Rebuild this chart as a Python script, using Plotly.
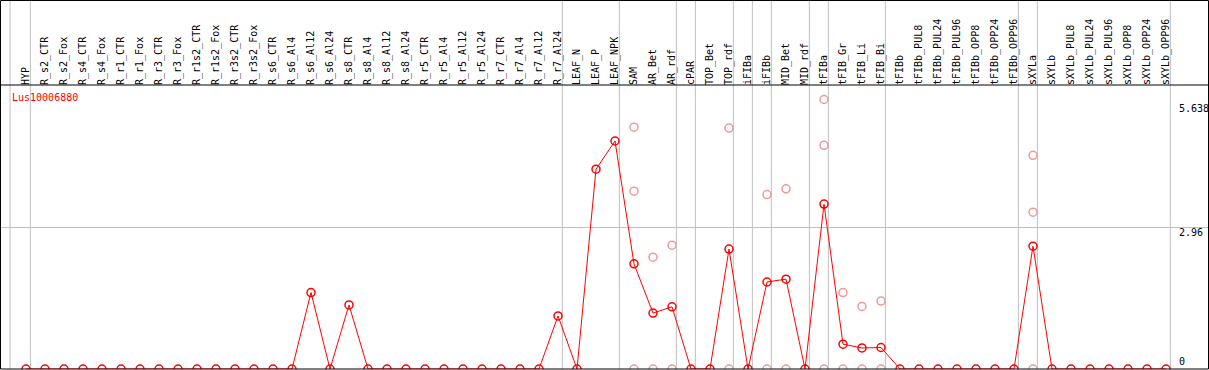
import plotly.graph_objects as go

# ---------------- data ----------------
categories = [
    "HYP", "R_s2_CTR", "R_s2_Fox", "R_s4_CTR", "R_s4_Fox", "R_r1_CTR", "R_r1_Fox",
    "R_r3_CTR", "R_r3_Fox", "R_r1s2_CTR", "R_r1s2_Fox", "R_r3s2_CTR", "R_r3s2_Fox",
    "R_s6_CTR", "R_s6_Al4", "R_s6_Al12", "R_s6_Al24", "R_s8_CTR", "R_s8_Al4",
    "R_s8_Al12", "R_s8_Al24", "R_r5_CTR", "R_r5_Al4", "R_r5_Al12", "R_r5_Al24",
    "R_r7_CTR", "R_r7_Al4", "R_r7_Al12", "R_r7_Al24", "LEAF_N", "LEAF_P", "LEAF_NPK",
    "SAM", "AR_Bet", "AR_rdf", "cPAR", "TOP_Bet", "TOP_rdf", "iFIBa", "iFIBb",
    "MID_Bet", "MID_rdf", "tFIBa", "tFIB_Gr", "tFIB_Li", "tFIB_Bi", "tFIBb",
    "tFIBb_PUL8", "tFIBb_PUL24", "tFIBb_PUL96", "tFIBb_OPP8", "tFIBb_OPP24",
    "tFIBb_OPP96", "sXYLa", "sXYLb", "sXYLb_PUL8", "sXYLb_PUL24", "sXYLb_PUL96",
    "sXYLb_OPP8", "sXYLb_OPP24", "sXYLb_OPP96",
]

mean_values = [
    0, 0, 0, 0, 0, 0, 0,
    0, 0, 0, 0, 0, 0,
    0, 0, 1.60, 0, 1.34, 0,
    0, 0, 0, 0, 0, 0,
    0, 0, 0, 1.11, 0, 4.18, 4.77,
    2.20, 1.17, 1.30, 0, 0, 2.51, 0, 1.82,
    1.88, 0, 3.45, 0.52, 0.44, 0.45, 0,
    0, 0, 0, 0, 0,
    0, 2.57, 0, 0, 0, 0,
    0, 0, 0,
]

rep_samples = [
    "SAM", "SAM", "SAM",
    "AR_Bet", "AR_Bet",
    "AR_rdf", "AR_rdf",
    "TOP_rdf", "TOP_rdf",
    "iFIBb", "iFIBb",
    "MID_Bet", "MID_Bet",
    "tFIBa", "tFIBa", "tFIBa",
    "tFIB_Gr", "tFIB_Gr",
    "tFIB_Li", "tFIB_Li",
    "tFIB_Bi", "tFIB_Bi",
    "sXYLa", "sXYLa", "sXYLa",
]
rep_values = [
    5.06, 3.72, 0,
    2.34, 0,
    2.59, 0,
    5.04, 0,
    3.65, 0,
    3.77, 0,
    5.638, 4.68, 0,
    1.60, 0,
    1.31, 0,
    1.42, 0,
    4.47, 3.28, 0,
]

# group sizes (gray separators are drawn after each group)
group_sizes = [1, 28, 3, 3, 1, 2, 1, 1, 2, 1, 3, 7, 1, 7]

gene_name = "Lus10006880"
y_tick_values = [5.638, 2.96, 0]
y_tick_labels = ["5.638", "2.96", "0"]
grid_value = 2.96

# ---------------- layout geometry ----------------
W, H = 1209, 370
M_TOP, M_BOT = 85, 1
PLOT_H = H - M_TOP - M_BOT
STEP = 19.0          # px per category
FIRST = 26.0         # px of first category
PX_PER_UNIT = 47.8
x0 = -FIRST / STEP
x1 = x0 + W / STEP
y_top = PLOT_H / PX_PER_UNIT

FONT = "DejaVu Sans Mono"
GRAY = "#C0C0C0"
RED = "#FF0000"
PINK = "#EE9A9A"

fig = go.Figure()

fig.add_trace(go.Scatter(
    x=rep_samples, y=rep_values, mode="markers",
    marker=dict(symbol="circle-open", size=8, color=PINK, line=dict(width=1.5, color=PINK)),
    hoverinfo="x+y", cliponaxis=True,
))
fig.add_trace(go.Scatter(
    x=categories, y=mean_values, mode="lines+markers",
    line=dict(color=RED, width=1),
    marker=dict(symbol="circle-open", size=8, color=RED, line=dict(width=1.5, color=RED)),
    hoverinfo="x+y", cliponaxis=True,
))

shapes = []
# separators
pos = -1
boundaries = [-1 + 0.16]
for g in group_sizes:
    pos += g
    boundaries.append(pos + 0.23)
top_paper = (H - M_BOT) / PLOT_H
for b in boundaries:
    shapes.append(dict(type="line", xref="x", yref="paper", x0=b, x1=b, y0=0, y1=top_paper,
                       line=dict(color=GRAY, width=1), layer="below"))
# horizontal grid line
shapes.append(dict(type="line", xref="paper", yref="y", x0=0, x1=1, y0=grid_value, y1=grid_value,
                   line=dict(color=GRAY, width=1), layer="below"))
# black frame and divider
shapes.append(dict(type="rect", xref="paper", yref="paper",
                   x0=0.5 / W, x1=(W - 0.5) / W, y0=0, y1=(H - M_BOT - 0.5) / PLOT_H,
                   line=dict(color="black", width=1), fillcolor="rgba(0,0,0,0)", layer="above"))
shapes.append(dict(type="line", xref="paper", yref="paper", x0=0, x1=1, y0=1, y1=1,
                   line=dict(color="black", width=1), layer="above"))

annotations = [dict(
    text=gene_name, xref="paper", yref="paper", x=10 / W, y=(H - M_BOT - 97) / PLOT_H,
    xanchor="left", yanchor="middle", showarrow=False,
    font=dict(family=FONT, size=10, color=RED),
)]
label_shift = {"5.638": -1, "2.96": 3, "0": 0}
for v, t in zip(y_tick_values, y_tick_labels):
    annotations.append(dict(
        text=t, xref="paper", yref="y", x=1177 / W, y=v,
        xanchor="left", yanchor="bottom" if v == 0 else "top", showarrow=False,
        font=dict(family=FONT, size=10, color="black"), yshift=label_shift[t],
    ))

fig.update_layout(
    width=W, height=H,
    margin=dict(l=0, r=0, t=M_TOP, b=M_BOT),
    paper_bgcolor="white", plot_bgcolor="white",
    showlegend=False,
    shapes=shapes, annotations=annotations,
    xaxis=dict(
        type="category", categoryorder="array", categoryarray=categories,
        range=[x0, x1], side="top", tickangle=-90,
        tickfont=dict(family=FONT, size=10, color="black"),
        ticks="", showgrid=False, zeroline=False, showline=False, automargin=False,
        tickmode="array", tickvals=categories, ticktext=categories,
        ticklabelstandoff=-1,
    ),
    yaxis=dict(
        range=[0, y_top], showticklabels=False, ticks="", showgrid=False,
        zeroline=False, showline=False, automargin=False,
    ),
)

fig.write_html(
    "out.html",
    config={"displayModeBar": False},
    post_script="document.body.style.margin='0';document.body.style.overflow='hidden';",
)
